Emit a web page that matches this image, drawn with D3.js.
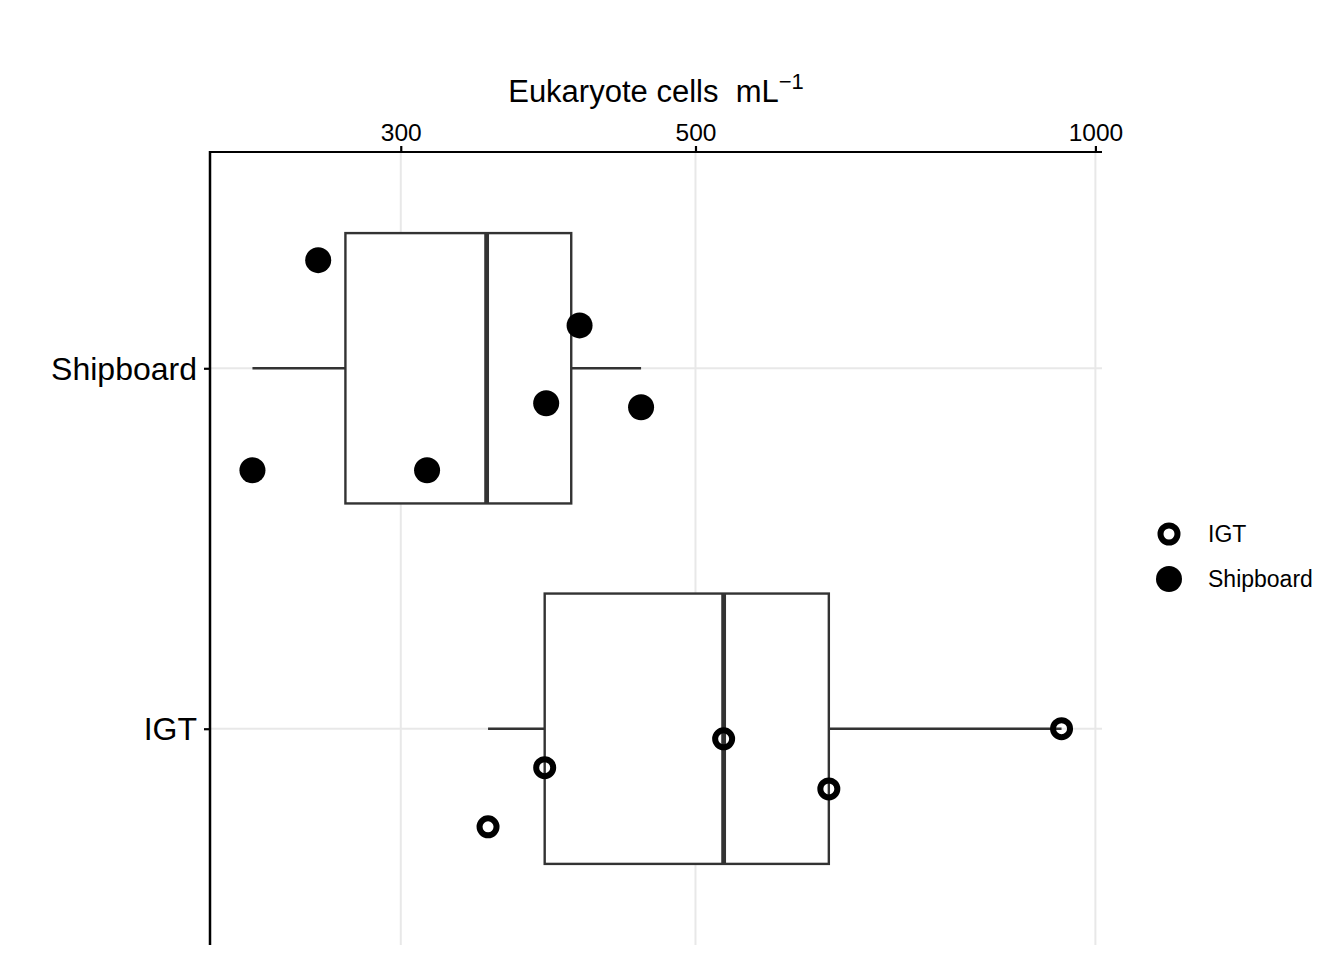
<!DOCTYPE html>
<html>
<head>
<meta charset="utf-8">
<script src="https://cdn.jsdelivr.net/npm/d3@7"></script>
<style>
  html, body { margin: 0; padding: 0; background: #fff; }
  svg text { font-family: "Liberation Sans", Arial, sans-serif; }
</style>
</head>
<body>
<svg id="chart" width="1344" height="960"></svg>
<script>
// ---- data ----
const categories = ["Shipboard", "IGT"];
const shipboardValues = [232, 260, 314, 386, 409, 455];
const shipboardJitter = [0.283, -0.300, 0.283, 0.097, -0.119, 0.108]; // category units, + = down
const igtValues = [349, 385, 525, 630, 943];
const igtJitter = [0.272, 0.108, 0.028, 0.167, 0.0];
const xTicks = [300, 500, 1000];
const legendLabels = ["IGT", "Shipboard"];

const series = [
  { name: "Shipboard", values: shipboardValues, jitter: shipboardJitter, hollow: false },
  { name: "IGT", values: igtValues, jitter: igtJitter, hollow: true }
];

// ---- layout ----
const panel = { left: 210, right: 1102, top: 152, bottom: 945 };
const svg = d3.select("#chart");

const allVals = shipboardValues.concat(igtValues);
const lext = d3.extent(allVals, v => Math.log10(v));
const pad = (lext[1] - lext[0]) * 0.05;
const x = d3.scaleLog()
  .domain([Math.pow(10, lext[0] - pad), Math.pow(10, lext[1] + pad)])
  .range([panel.left + 2, panel.right]);

const y = d3.scalePoint().domain(categories).range([panel.top, panel.bottom]).padding(0.6);
const step = y.step();

// ---- grid ----
const grid = svg.append("g");
grid.selectAll("line.vg").data(xTicks).join("line")
  .attr("x1", d => x(d)).attr("x2", d => x(d))
  .attr("y1", panel.top).attr("y2", panel.bottom)
  .attr("stroke", "#E8E8E8").attr("stroke-width", 2);
grid.selectAll("line.hg").data(categories).join("line")
  .attr("x1", panel.left).attr("x2", panel.right)
  .attr("y1", d => y(d)).attr("y2", d => y(d))
  .attr("stroke", "#E8E8E8").attr("stroke-width", 2);

// ---- boxplots ----
function stats(vals) {
  const l = vals.map(v => Math.log10(v)).sort(d3.ascending);
  const q1 = d3.quantile(l, 0.25), med = d3.quantile(l, 0.5), q3 = d3.quantile(l, 0.75);
  const iqr = q3 - q1;
  const lo = d3.min(l.filter(v => v >= q1 - 1.5 * iqr));
  const hi = d3.max(l.filter(v => v <= q3 + 1.5 * iqr));
  const p = v => Math.pow(10, v);
  return { q1: p(q1), med: p(med), q3: p(q3), lo: p(lo), hi: p(hi) };
}
const boxG = svg.append("g");
series.forEach(s => {
  const st = stats(s.values);
  const cy = y(s.name);
  const hh = step * 0.375;
  boxG.append("line").attr("x1", x(st.lo)).attr("x2", x(st.q1)).attr("y1", cy).attr("y2", cy)
    .attr("stroke", "#333333").attr("stroke-width", 2.4);
  boxG.append("line").attr("x1", x(st.q3)).attr("x2", x(st.hi)).attr("y1", cy).attr("y2", cy)
    .attr("stroke", "#333333").attr("stroke-width", 2.4);
  boxG.append("rect").attr("x", x(st.q1)).attr("y", cy - hh)
    .attr("width", x(st.q3) - x(st.q1)).attr("height", 2 * hh)
    .attr("fill", "#fff").attr("stroke", "#333333").attr("stroke-width", 2.4);
  boxG.append("line").attr("x1", x(st.med)).attr("x2", x(st.med)).attr("y1", cy - hh).attr("y2", cy + hh)
    .attr("stroke", "#333333").attr("stroke-width", 4.8);
});

// ---- points ----
const ptG = svg.append("g");
series.forEach(s => {
  ptG.selectAll(null).data(s.values.map((v, i) => ({ v, j: s.jitter[i] }))).join("circle")
    .attr("cx", d => x(d.v))
    .attr("cy", d => y(s.name) + d.j * step)
    .attr("r", s.hollow ? 8.5 : 13)
    .attr("fill", s.hollow ? "none" : "#000")
    .attr("stroke", s.hollow ? "#000" : "none")
    .attr("stroke-width", s.hollow ? 6 : 0);
});

// ---- axes ----
const xAxis = svg.append("g").attr("transform", `translate(0,${panel.top})`)
  .call(d3.axisTop(x).tickValues(xTicks).tickFormat(d3.format("d")).tickSize(6).tickSizeOuter(0));
xAxis.select(".domain").attr("stroke", "#000").attr("stroke-width", 2.2)
  .attr("d", `M${panel.left - 1},0H${panel.right}`);
xAxis.selectAll(".tick line").attr("stroke", "#000").attr("stroke-width", 2.2);
xAxis.selectAll(".tick text").attr("font-size", 24.5).attr("fill", "#000").attr("y", -11)
  .style("font-family", '"Liberation Sans", Arial, sans-serif');

const yAxis = svg.append("g").attr("transform", `translate(${panel.left},0)`)
  .call(d3.axisLeft(y).tickSize(6).tickSizeOuter(0));
yAxis.select(".domain").attr("stroke", "#000").attr("stroke-width", 2.5)
  .attr("d", `M0,${panel.top - 1}V${panel.bottom}`);
yAxis.selectAll(".tick line").attr("stroke", "#000").attr("stroke-width", 2.2);
yAxis.selectAll(".tick text").attr("font-size", 32).attr("fill", "#000").attr("x", -13).attr("dy", "0.34em")
  .style("font-family", '"Liberation Sans", Arial, sans-serif');

// ---- title ----
const title = svg.append("text")
  .attr("x", (panel.left + panel.right) / 2).attr("y", 102)
  .attr("text-anchor", "middle").attr("font-size", 31).attr("fill", "#000")
  .style("white-space", "pre");
title.append("tspan").text("Eukaryote cells  mL");
title.append("tspan").attr("font-size", 22).attr("dy", -13).text("\u22121");

// ---- legend ----
const leg = svg.append("g");
legendLabels.forEach((lab, i) => {
  const cy = 534 + i * 45;
  const hollow = lab === "IGT";
  leg.append("circle").attr("cx", 1169).attr("cy", cy)
    .attr("r", hollow ? 8.5 : 13)
    .attr("fill", hollow ? "none" : "#000")
    .attr("stroke", hollow ? "#000" : "none")
    .attr("stroke-width", hollow ? 6 : 0);
  leg.append("text").attr("x", 1208).attr("y", cy + 8).attr("font-size", 23).attr("fill", "#000").text(lab);
});
</script>
</body>
</html>
